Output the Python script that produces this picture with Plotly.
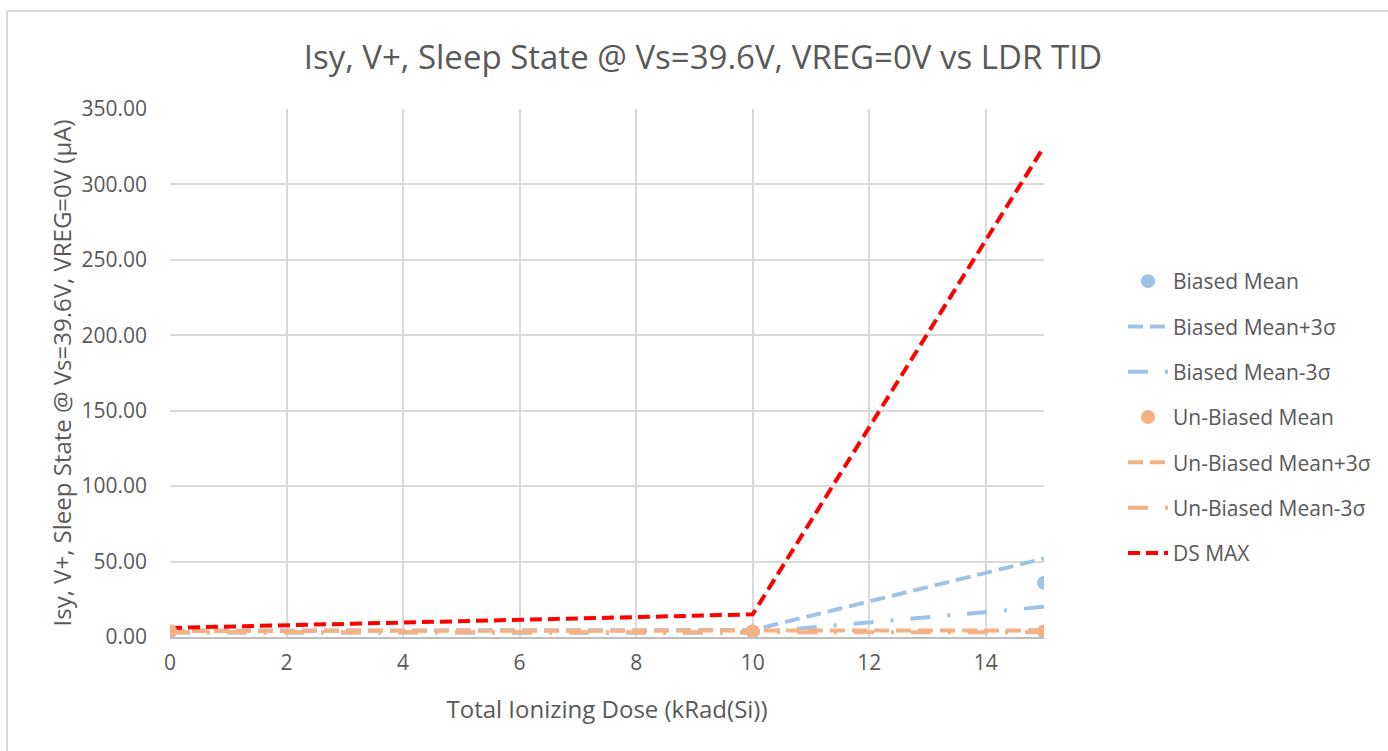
import plotly.graph_objects as go

tid = [0, 10, 15]
biased_mean = [3.6, 3.7, 36.0]
biased_p3 = [4.2, 4.6, 52.0]
biased_m3 = [3.0, 2.8, 20.0]
unbiased_mean = [3.6, 3.7, 3.6]
unbiased_p3 = [4.0, 4.3, 4.4]
unbiased_m3 = [3.2, 3.2, 3.2]
ds_max = [6.0, 15.0, 325.0]

blue = "#9dc3e6"
orange = "#f4b183"
red = "#ff0000"
font = "Open Sans"
txt = "#595959"

fig = go.Figure()
lw = 4
dash3 = "15px,7px"
dashdot = "20px,17px,3px,17px"
fig.add_trace(go.Scatter(x=tid, y=biased_p3, name="Biased Mean+3σ", mode="lines",
                         line=dict(color=blue, width=lw, dash=dash3), legendrank=2, legendgroup="b"))
fig.add_trace(go.Scatter(x=tid, y=biased_m3, name="Biased Mean-3σ", mode="lines",
                         line=dict(color=blue, width=lw, dash=dashdot), legendrank=3, legendgroup="c"))
fig.add_trace(go.Scatter(x=tid, y=unbiased_p3, name="Un-Biased Mean+3σ", mode="lines",
                         line=dict(color=orange, width=lw, dash=dash3), legendrank=5, legendgroup="e"))
fig.add_trace(go.Scatter(x=tid, y=unbiased_m3, name="Un-Biased Mean-3σ", mode="lines",
                         line=dict(color=orange, width=lw, dash=dashdot), legendrank=6, legendgroup="f"))
fig.add_trace(go.Scatter(x=tid, y=ds_max, name="DS MAX", mode="lines",
                         line=dict(color=red, width=lw, dash="12px,6px"), legendrank=7, legendgroup="g"))
fig.add_trace(go.Scatter(x=tid, y=biased_mean, name="Biased Mean", mode="markers",
                         marker=dict(color=blue, size=14), legendrank=1, legendgroup="a"))
fig.add_trace(go.Scatter(x=tid, y=unbiased_mean, name="Un-Biased Mean", mode="markers",
                         marker=dict(color=orange, size=14), legendrank=4, legendgroup="d"))

fig.update_layout(
    width=1388, height=751,
    paper_bgcolor="white", plot_bgcolor="white",
    margin=dict(l=170, r=344, t=109, b=114),
    font=dict(family=font, color=txt, size=21),
    title=dict(text="Isy, V+, Sleep State @ Vs=39.6V, VREG=0V vs LDR TID",
               x=703 / 1388, xref="container", xanchor="center",
               y=1 - 57 / 751, yanchor="middle",
               font=dict(size=33, color=txt, family=font)),
    xaxis=dict(range=[0, 15], tickvals=[0, 2, 4, 6, 8, 10, 12, 14],
               showgrid=True, gridcolor="#d9d9d9", gridwidth=2,
               showline=True, linecolor="#bfbfbf", linewidth=2, zeroline=False,
               ticks="", tickfont=dict(size=21, color=txt), ticklabelstandoff=6,
               title=dict(text="Total Ionizing Dose (kRad(Si))", font=dict(size=24, color=txt), standoff=26)),
    yaxis=dict(range=[0, 350], dtick=50, tickformat=".2f",
               showgrid=True, gridcolor="#d9d9d9", gridwidth=2,
               showline=False, zeroline=False, ticks="",
               tickfont=dict(size=21, color=txt), ticklabelstandoff=22,
               title=dict(text="Isy, V+, Sleep State @ Vs=39.6V, VREG=0V (µA)",
                          font=dict(size=24, color=txt), standoff=3)),
    legend=dict(x=(1123 - 170) / 874, xanchor="left", y=(637 - 417.5) / 528, yanchor="middle",
                font=dict(size=21, color=txt), traceorder="grouped",
                tracegroupgap=15, itemwidth=40, bgcolor="rgba(0,0,0,0)"),
    shapes=[
        dict(type="line", xref="paper", yref="paper",
             x0=(7 - 170) / 874, x1=(7 - 170) / 874, y0=-0.5, y1=(637 - 11) / 528,
             line=dict(color="#d9d9d9", width=2), layer="below"),
        dict(type="line", xref="paper", yref="paper",
             x0=(7 - 170) / 874, x1=1.6, y0=(637 - 11) / 528, y1=(637 - 11) / 528,
             line=dict(color="#d9d9d9", width=2), layer="below"),
    ],
)

fig.write_html("out.html", config={"displayModeBar": False},
               post_script="document.body.style.margin='0px';document.body.style.overflow='hidden';document.documentElement.style.overflow='hidden';")
